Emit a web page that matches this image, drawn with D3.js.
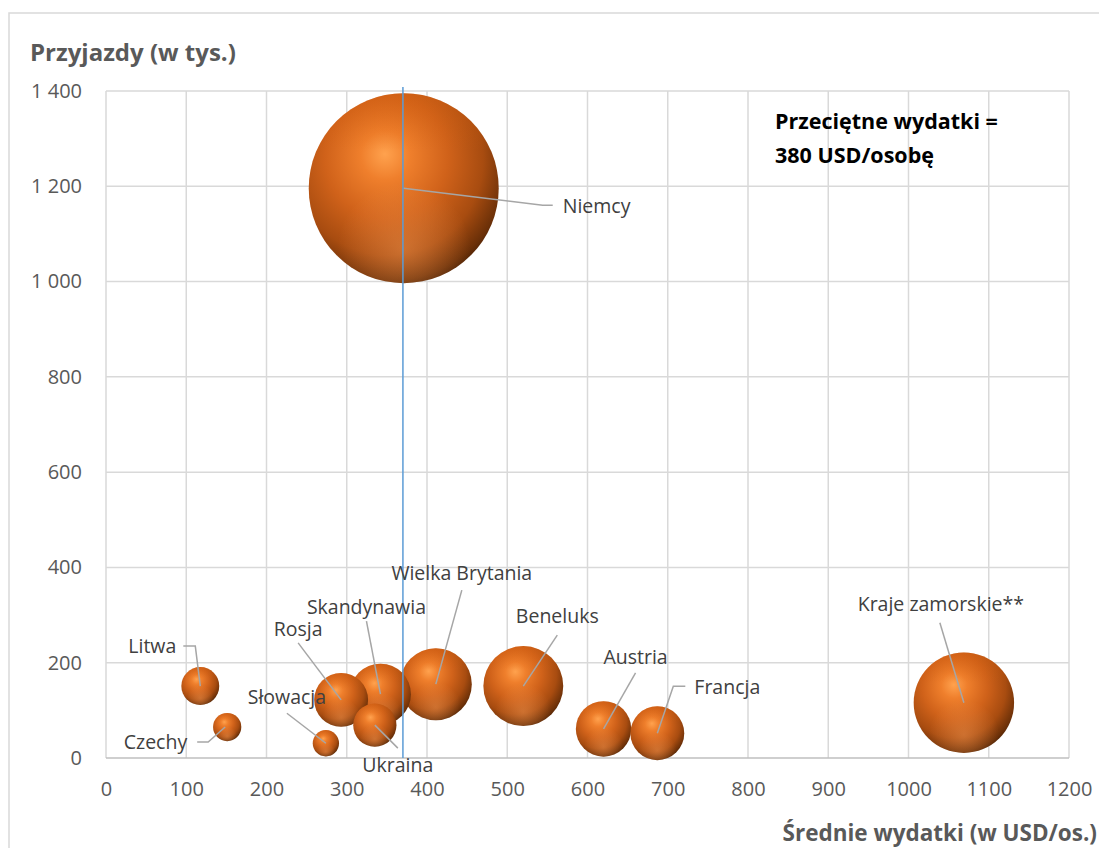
<!DOCTYPE html>
<html><head><meta charset="utf-8">
<script src="https://cdn.jsdelivr.net/npm/d3@7"></script>
<style>
html,body{margin:0;padding:0;background:#fff;}
svg{display:block;font-family:"Open Sans",sans-serif;}
</style></head>
<body>
<svg id="chart" width="1099" height="848"></svg>
<script>
// ---- data ----
const countries = ["Niemcy","Litwa","Czechy","Słowacja","Rosja","Skandynawia","Ukraina","Wielka Brytania","Beneluks","Austria","Francja","Kraje zamorskie**"];
const spending  = [371, 117.5, 151, 274, 293, 342, 335, 411, 520, 620, 687, 1069];   // USD per person
const arrivals  = [1196, 151, 65, 31, 122, 134, 69, 155, 151, 61, 52, 116];        // thousands
const revenue   = [444, 17.7, 9.8, 8.5, 35.7, 45.8, 23, 63.7, 78.5, 37.8, 35.7, 124]; // bubble size
const averageSpending = 370;
const xTicks = [0,100,200,300,400,500,600,700,800,900,1000,1100,1200];
const yTicks = [0,200,400,600,800,1000,1200,1400];
const yTitle = "Przyjazdy (w tys.)";
const xTitle = "Średnie wydatki (w USD/os.)";
const noteLines = ["Przeciętne wydatki =","380 USD/osobę"];

// ---- label layout (pixels, relative to bubble centre) ----
const labelLayout = [
  {dx:159, dy:18, anchor:"start", leader:[[0,0],[139,17],[149,17]]},
  {dx:-24, dy:-40, anchor:"end", leader:[[0,0],[-5,-40],[-17,-40]]},
  {dx:-40, dy:15, anchor:"end", leader:[[-2,0],[-19,15],[-30,15]]},
  {dx:-39, dy:-46, anchor:"middle", leader:[[0,0],[-39,-30]]},
  {dx:-43, dy:-71, anchor:"middle", leader:[[0,0],[-43,-57]]},
  {dx:-14, dy:-87, anchor:"middle", leader:[[0,0],[-14,-73]]},
  {dx:23, dy:40, anchor:"middle", leader:[[0,0],[23,23]]},
  {dx:26, dy:-111, anchor:"middle", leader:[[0,0],[26,-94]]},
  {dx:34, dy:-70, anchor:"middle", leader:[[0,0],[34,-51]]},
  {dx:32, dy:-72, anchor:"middle", leader:[[0,0],[32,-56]]},
  {dx:37, dy:-46, anchor:"start", leader:[[0,0],[16,-47],[28,-47]]},
  {dx:-23, dy:-99, anchor:"middle", leader:[[0,0],[-24,-80]]}
];

const svg = d3.select("#chart");
const x = d3.scaleLinear().domain([0,1200]).range([106,1069]);
const y = d3.scaleLinear().domain([0,1400]).range([758,91]);
const r = d3.scaleSqrt().domain([0,444]).range([0,95]);
const loc = d3.formatLocale({decimal:",", thousands:"\u00a0", grouping:[3], currency:["",""]});
const fmt = loc.format(",");

// outer border
svg.append("rect").attr("x",9).attr("y",13).attr("width",1100).attr("height",850)
  .attr("fill","none").attr("stroke","#d9d9d9").attr("stroke-width",1.5);

// defs: sphere gradients
const defs = svg.append("defs");
const g1 = defs.append("radialGradient").attr("id","sphere")
  .attr("cx","0.42").attr("cy","0.36").attr("r","0.72").attr("fx","0.4").attr("fy","0.32");
[[0,"#ffa24e"],[0.18,"#ef7f2c"],[0.45,"#d0621a"],[0.7,"#a84c10"],[0.88,"#6b3008"],[1,"#2e1402"]]
  .forEach(([o,c])=>g1.append("stop").attr("offset",o).attr("stop-color",c));
const g2 = defs.append("radialGradient").attr("id","refl")
  .attr("cx","0.5").attr("cy","0.82").attr("r","0.35");
g2.append("stop").attr("offset",0).attr("stop-color","#f59a55").attr("stop-opacity",0.45);
g2.append("stop").attr("offset",1).attr("stop-color","#f59a55").attr("stop-opacity",0);
const g3 = defs.append("linearGradient").attr("id","topedge").attr("x1",0).attr("y1",0).attr("x2",0).attr("y2",1);
g3.append("stop").attr("offset",0).attr("stop-color","#d9620f").attr("stop-opacity",0.35);
g3.append("stop").attr("offset",0.3).attr("stop-color","#d9620f").attr("stop-opacity",0);

// grid
const grid = svg.append("g");
grid.selectAll("line.v").data(xTicks).enter().append("line")
  .attr("x1",d=>x(d)).attr("x2",d=>x(d)).attr("y1",y(1400)).attr("y2",y(0))
  .attr("stroke","#d9d9d9").attr("stroke-width",1.5);
grid.selectAll("line.h").data(yTicks).enter().append("line")
  .attr("x1",x(0)).attr("x2",x(1200)).attr("y1",d=>y(d)).attr("y2",d=>y(d))
  .attr("stroke",d=>d===0?"#bfbfbf":"#d9d9d9").attr("stroke-width",1.5);

// axes (labels only)
const xAxis = d3.axisBottom(x).tickValues(xTicks).tickSize(0).tickPadding(24).tickFormat(d=>d);
const gx = svg.append("g").attr("transform",`translate(0,${y(0)})`).call(xAxis);
const yAxis = d3.axisLeft(y).tickValues(yTicks).tickSize(0).tickPadding(24).tickFormat(fmt);
const gy = svg.append("g").attr("transform",`translate(${x(0)},0)`).call(yAxis);
[gx,gy].forEach(g=>{
  g.select(".domain").remove();
  g.selectAll("text").attr("fill","#595959").style("font-size","20px").style("font-family","'Open Sans',sans-serif");
});
gx.selectAll("text").attr("dy","0.71em");

// bubbles
const idx = d3.range(countries.length);
const order = idx.slice().sort((a,b)=>revenue[b]-revenue[a]);
const bub = svg.append("g");
bub.selectAll("g").data(order).enter().append("g").each(function(i){
  const g = d3.select(this);
  const cx = x(spending[i]), cy = y(arrivals[i]), rr = r(revenue[i]);
  g.append("circle").attr("cx",cx).attr("cy",cy).attr("r",rr).attr("fill","url(#sphere)");
  g.append("circle").attr("cx",cx).attr("cy",cy).attr("r",rr).attr("fill","url(#refl)");
  g.append("circle").attr("cx",cx).attr("cy",cy).attr("r",rr).attr("fill","url(#topedge)");
});

// average line
svg.append("line").attr("x1",x(averageSpending)).attr("x2",x(averageSpending))
  .attr("y1",y(1400)-4).attr("y2",y(0)).attr("stroke","#5b9bd5").attr("stroke-width",1.5);

// leaders + labels
const lab = svg.append("g");
idx.forEach(i=>{
  const cx = x(spending[i]), cy = y(arrivals[i]);
  const L = labelLayout[i];
  lab.append("path").attr("d", d3.line()(L.leader.map(p=>[cx+p[0],cy+p[1]])))
    .attr("fill","none").attr("stroke","#a6a6a6").attr("stroke-width",1.5);
  lab.append("text").attr("x",cx+L.dx).attr("y",cy+L.dy).attr("dy","0.35em")
    .attr("text-anchor",L.anchor).attr("fill","#404040").style("font-size","19.5px").text(countries[i]);
});

// titles
svg.append("text").attr("x",30).attr("y",61).attr("fill","#595959")
  .style("font-size","24px").style("font-weight","700").text(yTitle);
svg.append("text").attr("x",1097).attr("y",841).attr("text-anchor","end").attr("fill","#595959")
  .style("font-size","22.5px").style("font-weight","700").text(xTitle);

// note
svg.append("g").selectAll("text").data(noteLines).enter().append("text")
  .attr("x",775).attr("y",(d,i)=>121+i*34).attr("dy","0.35em").attr("fill","#000")
  .style("font-size","21.5px").style("font-weight","700").text(d=>d);
</script>
</body></html>
